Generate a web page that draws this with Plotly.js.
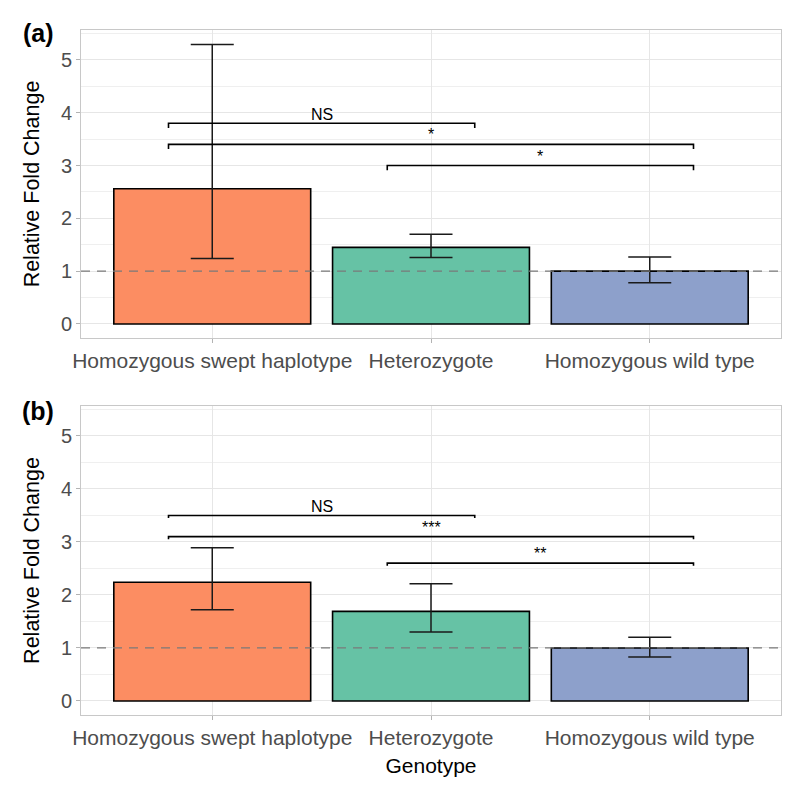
<!DOCTYPE html>
<html>
<head>
<meta charset="utf-8">
<script src="https://cdn.plot.ly/plotly-3.0.1.min.js"></script>
<style>html,body{margin:0;padding:0;background:#fff;}#chart{width:800px;height:801px;}</style>
</head>
<body>
<div id="chart"></div>
<script>
// ---- data ----
const categories = ['Homozygous swept haplotype', 'Heterozygote', 'Homozygous wild type'];
const categoryPos = [1, 2, 3];
const barColors = ['#FC8D62', '#66C2A5', '#8DA0CB'];

const meanA = [2.56, 1.45, 1.00];
const upperA = [5.29, 1.70, 1.27];
const lowerA = [1.24, 1.26, 0.78];

const meanB = [2.24, 1.69, 1.00];
const upperB = [2.89, 2.21, 1.20];
const lowerB = [1.72, 1.30, 0.83];

const bracketXminA = [0.8, 0.8, 1.8];
const bracketXmaxA = [2.2, 3.2, 3.2];
const bracketYA = [3.8, 3.4, 3.0];
const bracketLabelA = ['NS', '*', '*'];

const bracketXminB = [0.8, 0.8, 1.8];
const bracketXmaxB = [2.2, 3.2, 3.2];
const bracketYB = [3.5, 3.1, 2.6];
const bracketLabelB = ['NS', '***', '**'];

const refLine = 1;
const yRange = [-0.265, 5.565];
const xRange = [0.4, 3.6];

// ---- build ----
const FONT = 'Liberation Sans, Arial, Helvetica, sans-serif';
const traces = [];
const annotations = [];

function addPanel(mean, upper, lower, bxmin, bxmax, by, blab, xa, ya, tip) {
  traces.push({
    type: 'bar', x: categoryPos, y: mean, width: 0.9,
    xaxis: xa, yaxis: ya,
    marker: {color: barColors, line: {color: '#000000', width: 1.6}},
    error_y: {
      type: 'data', symmetric: false,
      array: upper.map((u, i) => u - mean[i]),
      arrayminus: lower.map((l, i) => mean[i] - l),
      color: '#1a1a1a', thickness: 1.5, width: 21.5
    },
    hoverinfo: 'skip', showlegend: false
  });
  for (let i = 0; i < by.length; i++) {
    traces.push({
      type: 'scatter', mode: 'lines',
      x: [bxmin[i], bxmin[i], bxmax[i], bxmax[i]],
      y: [by[i] - tip, by[i], by[i], by[i] - tip],
      xaxis: xa, yaxis: ya,
      line: {color: '#000000', width: 1.6},
      hoverinfo: 'skip', showlegend: false
    });
    const isStar = blab[i].indexOf('*') >= 0;
    annotations.push({
      x: (bxmin[i] + bxmax[i]) / 2, y: by[i],
      xref: xa, yref: ya, text: blab[i], showarrow: false,
      xanchor: 'center', yanchor: 'bottom', yshift: isStar ? -1 : -2,
      font: {family: FONT, size: 16, color: '#000000'}
    });
  }
}

addPanel(meanA, upperA, lowerA, bracketXminA, bracketXmaxA, bracketYA, bracketLabelA, 'x', 'y', 0.09);
addPanel(meanB, upperB, lowerB, bracketXminB, bracketXmaxB, bracketYB, bracketLabelB, 'x2', 'y2', 0.05);

annotations.push({
  text: '<b>(a)</b>', xref: 'paper', yref: 'paper', x: -0.085, y: 0.995,
  xanchor: 'left', yanchor: 'middle', showarrow: false,
  font: {family: FONT, size: 25, color: '#000000'}
});
annotations.push({
  text: '<b>(b)</b>', xref: 'paper', yref: 'paper', x: -0.087, y: 0.4438,
  xanchor: 'left', yanchor: 'middle', showarrow: false,
  font: {family: FONT, size: 25, color: '#000000'}
});

const gridC = '#e6e6e6';
function xAxis(anchor, withTitle) {
  const ax = {
    anchor: anchor, range: xRange, tickmode: 'array', tickvals: categoryPos, ticktext: categories,
    showgrid: true, gridcolor: gridC, gridwidth: 1, zeroline: false,
    showline: true, linecolor: '#c8c8c8', linewidth: 1, mirror: true,
    ticks: 'outside', ticklen: 4, tickcolor: '#b3b3b3', tickwidth: 1,
    tickfont: {family: FONT, size: 21, color: '#4d4d4d'}
  };
  if (withTitle) ax.title = {text: 'Genotype', font: {family: FONT, size: 21, color: '#000000'}, standoff: 10};
  return ax;
}
function yAxis(anchor, domain) {
  return {
    anchor: anchor, domain: domain, range: yRange, tickmode: 'linear', tick0: 0, dtick: 1,
    showgrid: true, gridcolor: gridC, gridwidth: 1, zeroline: false,
    minor: {dtick: 0.5, tick0: 0, showgrid: true, gridcolor: '#efefef', gridwidth: 1, ticklen: 0},
    showline: true, linecolor: '#c8c8c8', linewidth: 1, mirror: true,
    ticks: 'outside', ticklen: 4, tickcolor: '#b3b3b3', tickwidth: 1,
    tickfont: {family: FONT, size: 20, color: '#4d4d4d'},
    title: {text: 'Relative Fold Change', font: {family: FONT, size: 21.5, color: '#000000'}, standoff: 15}
  };
}

const layout = {
  width: 800, height: 801,
  margin: {l: 81, r: 19, t: 30, b: 86},
  paper_bgcolor: '#ffffff', plot_bgcolor: '#ffffff',
  showlegend: false,
  font: {family: FONT},
  xaxis: xAxis('y', false),
  yaxis: yAxis('x', [0.5504, 1]),
  xaxis2: xAxis('y2', true),
  yaxis2: yAxis('x2', [0, 0.4511]),
  bargap: 0,
  annotations: annotations,
  shapes: [
    {type: 'line', xref: 'x domain', yref: 'y', x0: 0, x1: 1, y0: refLine, y1: refLine,
     line: {color: '#7a7a7a', width: 1.3, dash: '9px,7px'}, layer: 'above'},
    {type: 'line', xref: 'x2 domain', yref: 'y2', x0: 0, x1: 1, y0: refLine, y1: refLine,
     line: {color: '#7a7a7a', width: 1.3, dash: '9px,7px'}, layer: 'above'}
  ]
};

Plotly.newPlot('chart', traces, layout, {staticPlot: true, displayModeBar: false});
</script>
</body>
</html>
